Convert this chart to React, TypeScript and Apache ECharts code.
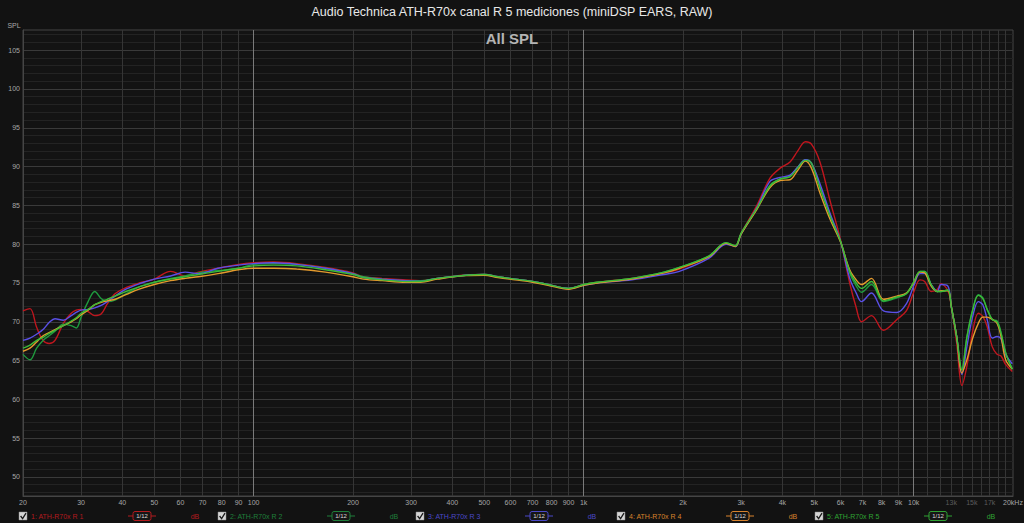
import React, { useEffect, useRef } from 'react';
import * as echarts from 'echarts';

const TITLE = 'Audio Technica ATH-R70x canal R 5 mediciones (miniDSP EARS, RAW)';
const SUBTITLE = 'All SPL';
const Y_NAME = 'SPL';

// frequencies (Hz)
const freqs = [
  20, 21, 22, 23, 24, 25, 26.5, 28, 29, 30, 31.5, 33, 34.5, 36, 38, 41, 45, 50, 56, 62, 68, 78, 90,
  100, 115, 135, 165, 200, 215, 245, 290, 320, 360, 440, 500, 550, 620, 700, 780, 900, 1000, 1100, 1400, 1750, 1950,
  2400, 2700, 2880, 3000, 3350, 3670, 3940, 4220, 4450, 4700, 4900, 5200, 5580, 6000,
  6400, 6700, 6950, 7450, 8100, 8900, 9500, 10000, 10450, 10800, 11300, 11800, 12100, 12700, 13000, 13500, 14000,
  14500, 15100, 15700, 16200, 16700, 17300, 17900, 18400, 19000, 19900,
];

const r1 = [
  71.4, 71.7, 69.3, 67.6, 67.2, 67.6, 69.8, 71.1, 71.5, 71.6, 71.3, 70.8, 71.0, 72.3, 73.6, 74.4, 75.0, 75.5, 76.5, 75.9, 76.4, 76.9, 77.4,
  77.6, 77.7, 77.5, 77.0, 76.3, 75.8, 75.6, 75.4, 75.3, 75.6, 76.05, 76.1, 75.8, 75.5, 75.2, 74.8, 74.3, 74.8, 75.1, 75.6, 76.3, 76.8,
  78.4, 80.1, 79.8, 81.4, 85.0, 88.5, 89.8, 90.6, 92.0, 93.2, 92.9, 90.6, 85.6, 80.6,
  75.0, 71.8, 70.0, 70.8, 68.9, 70.3, 71.4, 73.8, 75.4, 75.2, 73.9, 74.2, 74.9, 74.0, 72.0, 67.3, 61.8, 64.3, 68.8, 71.1, 70.7, 69.4, 66.8, 65.8, 65.6, 64.5, 63.6,
];
const r2 = [
  65.8, 65.1, 66.6, 67.6, 68.2, 68.8, 69.7, 69.5, 69.2, 70.6, 72.6, 73.9, 73.0, 72.6, 72.8, 73.6, 74.5, 75.1, 75.6, 75.9, 76.3, 76.6, 76.9,
  77.4, 77.5, 77.4, 76.9, 76.2, 75.8, 75.5, 75.3, 75.3, 75.6, 76.0, 76.1, 75.8, 75.5, 75.2, 74.8, 74.3, 74.8, 75.1, 75.6, 76.4, 77.0,
  78.5, 80.2, 79.8, 81.4, 84.6, 87.6, 88.4, 88.7, 89.9, 90.9, 90.5, 87.4, 83.8, 80.4,
  76.3, 74.6, 73.8, 74.8, 72.6, 73.1, 73.6, 75.1, 76.5, 76.5, 74.8, 73.9, 73.9, 74.1, 72.0, 68.1, 63.8, 68.1, 71.6, 73.5, 73.1, 71.6, 70.3, 70.1, 68.6, 66.0, 63.9,
];
const r3 = [
  67.6, 67.9, 68.4, 69.0, 69.9, 70.4, 70.2, 70.8, 71.2, 71.5, 71.6, 71.8, 72.1, 72.6, 73.3, 74.2, 74.9, 75.5, 75.9, 76.4, 76.2, 76.9, 77.3,
  77.5, 77.6, 77.4, 76.9, 76.2, 75.7, 75.5, 75.3, 75.2, 75.6, 76.0, 76.1, 75.8, 75.5, 75.2, 74.8, 74.3, 74.7, 75.0, 75.4, 76.1, 76.5,
  78.2, 80.0, 79.7, 81.3, 84.7, 88.1, 88.6, 88.9, 89.9, 90.9, 90.4, 87.8, 84.0, 80.4,
  75.6, 73.7, 72.6, 73.7, 71.4, 71.2, 72.3, 74.6, 76.2, 76.2, 74.8, 73.9, 74.8, 74.6, 72.0, 68.1, 63.2, 66.8, 70.7, 72.6, 72.2, 70.3, 67.9, 68.1, 67.8, 65.8, 64.6,
];
const r4 = [
  66.2, 66.6, 67.4, 68.2, 68.6, 69.0, 69.5, 70.0, 70.4, 70.9, 71.5, 72.2, 72.5, 72.7, 72.9, 73.5, 74.2, 74.8, 75.3, 75.6, 75.8, 76.2, 76.7,
  76.9, 76.9, 76.8, 76.4, 75.8, 75.5, 75.3, 75.1, 75.1, 75.5, 75.95, 76.0, 75.7, 75.4, 75.1, 74.7, 74.2, 74.7, 75.0, 75.5, 76.3, 76.9,
  78.4, 80.1, 79.7, 81.3, 84.5, 87.3, 88.2, 88.3, 89.5, 90.7, 89.8, 86.6, 83.2, 80.3,
  76.7, 75.4, 74.8, 75.6, 72.9, 73.3, 73.7, 75.0, 76.4, 76.3, 74.6, 73.9, 74.0, 74.0, 72.0, 68.1, 63.4, 65.1, 67.9, 69.8, 70.6, 70.6, 70.3, 69.8, 68.1, 65.1, 63.9,
];
const r5 = [
  66.6, 67.0, 67.6, 68.0, 68.5, 68.9, 69.5, 70.1, 70.5, 71.1, 71.6, 72.2, 72.6, 72.9, 73.3, 73.9, 74.5, 75.1, 75.5, 75.8, 76.1, 76.5, 76.9,
  77.2, 77.3, 77.2, 76.7, 76.1, 75.7, 75.4, 75.2, 75.2, 75.6, 76.0, 76.1, 75.8, 75.5, 75.2, 74.8, 74.3, 74.8, 75.1, 75.6, 76.4, 77.0,
  78.5, 80.2, 79.8, 81.4, 84.6, 87.5, 88.4, 88.7, 89.8, 90.8, 90.4, 87.2, 83.6, 80.4,
  76.5, 75.0, 74.3, 75.2, 72.7, 73.2, 73.6, 75.1, 76.5, 76.5, 74.8, 73.9, 73.9, 74.1, 72.0, 68.1, 63.8, 68.0, 71.5, 73.4, 73.0, 71.6, 70.3, 70.0, 68.5, 66.0, 63.9,
];

const seriesNames = ['1: ATH-R70x R 1', '2: ATH-R70x R 2', '3: ATH-R70x R 3', '4: ATH-R70x R 4', '5: ATH-R70x R 5'];
const seriesColors = ['#c0161e', '#1f9a3e', '#5a50e6', '#e39a2d', '#3cba38'];
const legendColors = ['#b31a1e', '#1f7f3a', '#4a48c8', '#d8822c', '#2fa232'];

const xTickValues = [20, 30, 40, 50, 60, 70, 80, 90, 100, 200, 300, 400, 500, 600, 700, 800, 900,
  1000, 2000, 3000, 4000, 5000, 6000, 7000, 8000, 9000, 10000, 13000, 15000, 17000, 20000];
const xTickLabels = ['20', '30', '40', '50', '60', '70', '80', '90', '100', '200', '300', '400', '500', '600', '700', '800', '900',
  '1k', '2k', '3k', '4k', '5k', '6k', '7k', '8k', '9k', '10k', '13k', '15k', '17k', '20kHz'];
const xDimLabels = ['13k', '15k', '17k'];
const xMinorGrid = [30, 40, 50, 60, 70, 80, 90, 200, 300, 400, 500, 600, 700, 800, 900,
  2000, 3000, 4000, 5000, 6000, 7000, 8000, 9000, 11000, 12000, 13000, 14000, 15000, 16000, 17000, 18000, 19000];
const xMajorGrid = [100, 1000, 10000];
const yLabelValues = [50, 55, 60, 65, 70, 75, 80, 85, 90, 95, 100, 105];
const Y_MIN = 47.55;
const Y_MAX = 107.6;

const FONT = '"Liberation Sans", Arial, sans-serif';

export default function App() {
  const ref = useRef<HTMLDivElement>(null);
  useEffect(() => {
    const chart = echarts.init(ref.current!, null, { renderer: 'svg' });
    const yMinorGrid: number[] = [];
    for (let v = Math.ceil(Y_MIN); v <= Math.floor(Y_MAX); v++) if (v % 5 !== 0) yMinorGrid.push(v);

    const all = [r1, r2, r3, r4, r5];
    const series: any[] = all.map((vals, i) => ({
      type: 'line',
      name: seriesNames[i],
      data: freqs.map((f, k) => [f, vals[k]]),
      showSymbol: false,
      smooth: 0.35,
      silent: true,
      xAxisIndex: 0,
      yAxisIndex: 0,
      lineStyle: { color: seriesColors[i], width: 1.4 },
      itemStyle: { color: seriesColors[i] },
      z: 10,
    }));

    const labelFor = (v: number) => {
      let idx = -1;
      for (let k = 0; k < xTickValues.length; k++) {
        if (Math.abs(xTickValues[k] - v) / v < 1e-4) { idx = k; break; }
      }
      if (idx < 0) return '';
      const t = xTickLabels[idx];
      return xDimLabels.indexOf(t) >= 0 ? `{dim|${t}}` : t;
    };

    const graphics: any[] = [
      {
        type: 'text', x: 14, y: 25.5,
        style: { text: Y_NAME, fill: '#a8a8a8', font: `7px ${FONT}`, align: 'center', verticalAlign: 'middle' },
      },
    ];
    const legendX = [19, 218, 416, 617, 815];
    const cy = 516;
    seriesNames.forEach((name, i) => {
      const x0 = legendX[i];
      const c = legendColors[i];
      graphics.push(
        { type: 'rect', shape: { x: x0, y: cy - 4, width: 8, height: 8 }, style: { fill: '#d6d6d6', stroke: '#888', lineWidth: 0.5 } },
        { type: 'polyline', shape: { points: [[x0 + 1.6, cy], [x0 + 3.6, cy + 2.6], [x0 + 7, cy - 2.8]] }, style: { stroke: '#1a1a1a', lineWidth: 1.3, fill: null } },
        { type: 'text', x: x0 + 12, y: cy, style: { text: name, fill: c, font: `7px ${FONT}`, align: 'left', verticalAlign: 'middle' } },
        { type: 'line', shape: { x1: x0 + 109, y1: cy, x2: x0 + 137, y2: cy }, style: { stroke: c, lineWidth: 1 } },
        { type: 'rect', shape: { x: x0 + 114, y: cy - 4.5, width: 18, height: 9, r: 2 }, style: { fill: '#161616', stroke: c, lineWidth: 1 } },
        { type: 'text', x: x0 + 123, y: cy, style: { text: '1/12', fill: '#d8d8d8', font: `6px ${FONT}`, align: 'center', verticalAlign: 'middle' } },
        { type: 'text', x: x0 + 176, y: cy, style: { text: 'dB', fill: c, font: `7px ${FONT}`, align: 'center', verticalAlign: 'middle' } },
      );
    });

    chart.setOption({
      animation: false,
      backgroundColor: '#121212',
      textStyle: { fontFamily: FONT },
      title: [
        { text: TITLE, left: 'center', top: 5, padding: 0, textStyle: { color: '#e8e8e8', fontSize: 12.5, fontWeight: 'normal', fontFamily: FONT } },
        { text: SUBTITLE, left: 'center', top: 31, padding: 0, textStyle: { color: '#b4b4b4', fontSize: 15, fontWeight: 'bold', fontFamily: FONT } },
      ],
      grid: {
        left: 23, right: 11, top: 30, bottom: 27,
        show: true, backgroundColor: '#131313', borderColor: '#454545', borderWidth: 1,
        containLabel: false, outerBoundsMode: 'none',
      },
      xAxis: [
        {
          type: 'log', logBase: 10, min: 20, max: 20000, position: 'bottom',
          axisLine: { show: true, lineStyle: { color: '#454545' } },
          axisTick: { show: false, customValues: xMinorGrid },
          splitLine: { show: true, lineStyle: { color: '#353535', width: 1 } },
          minorSplitLine: { show: false },
          axisLabel: { show: false },
          z: 2,
        },
        {
          type: 'log', logBase: 10, min: 20, max: 20000, position: 'bottom',
          axisLine: { show: false },
          axisTick: { show: false, customValues: xMajorGrid },
          splitLine: { show: true, lineStyle: { color: '#7a7a7a', width: 1, type: 'solid' } },
          axisLabel: { show: false },
          z: 3,
        },
        {
          type: 'log', logBase: 10, min: 20, max: 20000, position: 'bottom',
          axisLine: { show: false },
          axisTick: { show: false, customValues: xTickValues },
          splitLine: { show: false },
          axisLabel: {
            show: true, customValues: xTickValues, formatter: labelFor, interval: 0, hideOverlap: false,
            showMinLabel: true, showMaxLabel: true,
            color: '#a6a6a6', fontSize: 7, fontFamily: FONT, margin: 3,
            rich: { dim: { color: '#5c5c5c', fontSize: 7, fontFamily: FONT } },
          },
          z: 3,
        },
      ],
      yAxis: [
        {
          type: 'value', min: Y_MIN, max: Y_MAX, position: 'left',
          axisLine: { show: true, lineStyle: { color: '#454545' } },
          axisTick: { show: false, customValues: yLabelValues },
          splitLine: { show: true, lineStyle: { color: '#3a3a3a', width: 1 } },
          axisLabel: {
            show: true, customValues: yLabelValues, color: '#a6a6a6', fontSize: 7, fontFamily: FONT, margin: 3,
            showMinLabel: true, showMaxLabel: true, hideOverlap: false,
          },
          z: 1,
        },
        {
          type: 'value', min: Y_MIN, max: Y_MAX, position: 'left',
          axisLine: { show: false },
          axisTick: { show: false, customValues: yMinorGrid },
          splitLine: { show: true, lineStyle: { color: '#232323', width: 1 } },
          axisLabel: { show: false },
          z: 0,
        },
      ],
      graphic: graphics,
      series,
    });
    return () => chart.dispose();
  }, []);
  return (
    <div
      ref={ref}
      style={{ position: 'fixed', left: 0, top: 0, width: 1024, height: 523, background: '#121212' }}
    />
  );
}
